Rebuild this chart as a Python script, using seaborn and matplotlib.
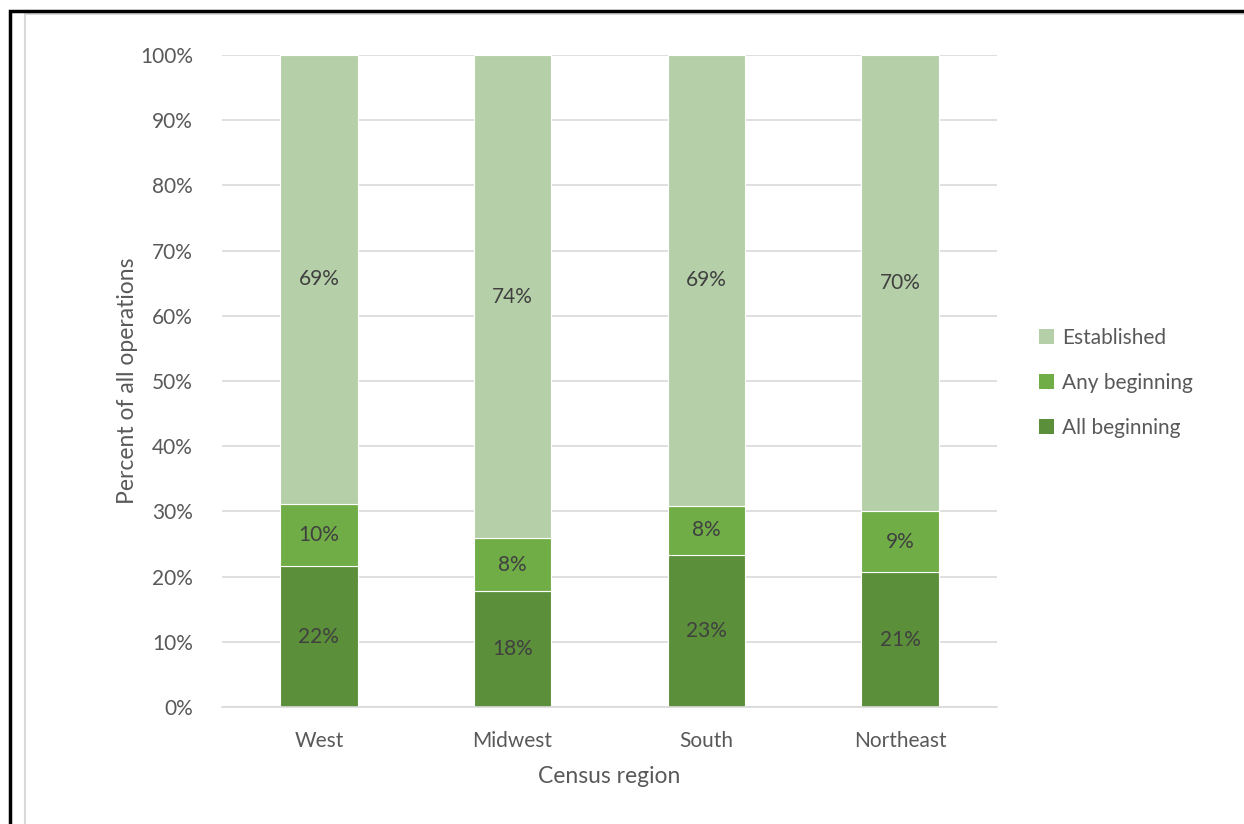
import matplotlib
matplotlib.use("Agg")
import matplotlib.pyplot as plt
import seaborn as sns
import pandas as pd
import numpy as np
from matplotlib.patches import Rectangle, Patch
from matplotlib.ticker import PercentFormatter

regions = ["West", "Midwest", "South", "Northeast"]
all_beginning = [21.6, 17.8, 23.3, 20.7]
any_beginning = [9.6, 8.1, 7.6, 9.3]
established = [68.8, 74.1, 69.1, 70.0]

series_names = ["All beginning", "Any beginning", "Established"]
colors = {"All beginning": "#5B8F3A", "Any beginning": "#70AD47", "Established": "#B5D0A8"}

sns.set_theme(style="white")
plt.rcParams['font.family'] = ['Lato', 'DejaVu Sans']

fig = plt.figure(figsize=(12.44, 8.24), dpi=100)
W, H = 1244, 824
ax = fig.add_axes([222 / W, 1 - 707 / H, (997 - 222) / W, (707 - 55) / H])

vals = [all_beginning, any_beginning, established]
cum = np.cumsum(np.array(vals), axis=0)
bottoms = np.vstack([np.zeros(len(regions)), cum[:-1]])

for name, v, b in zip(series_names, vals, bottoms):
    df = pd.DataFrame({"region": regions, "value": v})
    sns.barplot(data=df, x="region", y="value", color=colors[name], width=0.4,
                bottom=b, ax=ax, edgecolor="white", linewidth=0.8, saturation=1)

# data labels
for i in range(len(regions)):
    for v, b in zip([all_beginning[i], any_beginning[i], established[i]],
                    [bottoms[0][i], bottoms[1][i], bottoms[2][i]]):
        ax.text(i, b + v / 2, f"{v:.0f}%", ha="center", va="center",
                fontsize=15, color="#404040")

ax.set_ylim(0, 100)
ax.set_xlim(-0.5, 3.5)
ax.set_yticks(np.arange(0, 101, 10))
ax.yaxis.set_major_formatter(PercentFormatter(decimals=0))
ax.grid(axis="y", color="#D9D9D9", linewidth=1.2)
ax.set_axisbelow(True)
for s in ["top", "right", "left"]:
    ax.spines[s].set_visible(False)
ax.spines["bottom"].set_color("#D9D9D9")
ax.spines["bottom"].set_linewidth(1.2)
ax.tick_params(axis="both", length=0, labelsize=15, colors="#595959")
ax.tick_params(axis="y", pad=21)
ax.tick_params(axis="x", pad=17)
ax.set_xlabel("Census region", fontsize=16.5, color="#595959", labelpad=11)
ax.set_ylabel("Percent of all operations", fontsize=16.5, color="#595959", labelpad=1)

handles = [Patch(facecolor=colors[n], edgecolor="none") for n in ["Established", "Any beginning", "All beginning"]]
fig.legend(handles, ["Established", "Any beginning", "All beginning"],
           loc="center left", bbox_to_anchor=(1020 / W, 1 - 383 / H),
           frameon=False, fontsize=15, labelcolor="#595959",
           handlelength=0.75, handleheight=0.75, handletextpad=0.35, labelspacing=1.2)

# borders
fig.patches.append(Rectangle((9.5 / W, -0.1), 1.2, 1 - 11 / H + 0.1, transform=fig.transFigure,
                             fill=False, edgecolor="black", linewidth=2.5, zorder=10))
fig.patches.append(Rectangle((25 / W, -0.1), 1.2, 1 - 14 / H + 0.1, transform=fig.transFigure,
                             fill=False, edgecolor="#D9D9D9", linewidth=1.5, zorder=9))

fig.savefig("out.png", dpi=100)
